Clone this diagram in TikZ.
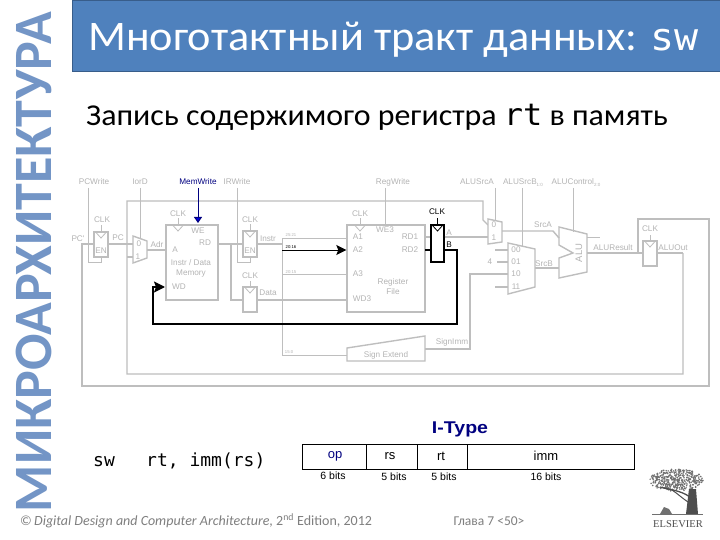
\documentclass[tikz,border=0pt]{standalone}
\usepackage{fontspec}
\setmainfont{Carlito}
\newfontfamily\carl{Carlito}
\newfontfamily\arl{Liberation Sans}
\newfontfamily\mon{DejaVu Sans Mono}
\newfontfamily\tms{Liberation Serif}
\usetikzlibrary{arrows.meta,calc}
\definecolor{wire}{HTML}{BEBEBE}
\definecolor{wtext}{HTML}{B4B4B4}
\definecolor{hdr}{HTML}{4F81BD}
\definecolor{hdrb}{HTML}{385D8A}
\definecolor{side}{HTML}{7395C6}
\definecolor{navy}{HTML}{000080}
\definecolor{foot}{HTML}{7F7F7F}
\definecolor{tree}{HTML}{707070}
\newcommand{\subs}[1]{{\fontsize{4.5}{5}\selectfont\raisebox{-1.2pt}{#1}}}
\tikzset{
 x=1pt,y=-1pt,
 wr/.style={draw=wire,line width=1.4pt,line join=miter},
 thinw/.style={draw=wire,line width=0.8pt},
 hot/.style={draw=black,line width=1.4pt},
 lab/.style={inner sep=0pt,text=wtext,font=\arl\fontsize{8.2}{9}\selectfont,align=center},
 toplab/.style={lab,anchor=base},
 tiny/.style={inner sep=0pt,text=wtext,font=\arl\fontsize{4.2}{5}\selectfont},
 hlab/.style={inner sep=0pt,text=black,font=\arl\fontsize{8.2}{9}\selectfont},
 regbox/.style={rectangle,draw=wire,line width=1.4pt,fill=white,minimum width=14pt,inner sep=0pt},
 bigbox/.style={rectangle,draw=wire,line width=1.4pt,fill=white,inner sep=0pt},
 hotbox/.style={rectangle,draw=black,line width=1.4pt,fill=white,minimum width=13pt,inner sep=0pt},
 cell/.style={rectangle,draw=black,line width=0.8pt,inner sep=0pt,minimum height=25pt},
 ctext/.style={inner sep=0pt,font=\arl\fontsize{13}{14}\selectfont},
 bits/.style={inner sep=0pt,font=\arl\fontsize{10.5}{12}\selectfont,text=black},
}
\begin{document}
\begin{tikzpicture}
\useasboundingbox (0,0) rectangle (720,540);
\fill[white] (0,0) rectangle (720,540);

% header and side text
\node[rectangle,draw=hdrb,line width=1pt,fill=hdr,minimum width=650pt,minimum height=71pt,inner sep=0pt] (head) at (397,36.5) {};
\node[inner sep=0pt,text=white,anchor=base west,yscale=.95] (title) at (88,51) {\carl\fontsize{44.3}{46}\selectfont Многотактный тракт данных: {\mon\fontsize{40}{42}\selectfont sw}};
\node[inner sep=0pt,text=black,anchor=base west,yscale=.95] (sub) at (86,126) {\carl\fontsize{31.9}{34}\selectfont Запись содержимого регистра {\mon\fontsize{32}{34}\selectfont rt} в память};
\node[inner sep=0pt,text=side,rotate=90] (sidet) at (34,262) {\carl\bfseries\fontsize{54}{56}\selectfont МИКРОАРХИТЕКТУРА};

% outer wires
\coordinate (pcin) at (94,244);
\coordinate (pcl) at (82,244);
\coordinate (obl) at (82,386);
\coordinate (obr) at (709,386);
\coordinate (otr) at (709,219);
\coordinate (otl) at (638,219);
\coordinate (aluj) at (638,253);
\coordinate (ibl) at (127,374);
\coordinate (ibr) at (683,374);
\coordinate (outj) at (683,253);
\coordinate (itl) at (127,201);
\coordinate (itr) at (483,201);
\coordinate (itd) at (483,220);
\coordinate (pcj) at (127,244);
\coordinate (pcj2) at (127,257);
\draw[wr] (pcin) -- (pcl) -- (obl) -- (obr) -- (otr) -- (otl) -- (aluj);
\draw[wr] (outj) -- (ibr) -- (ibl) -- (itl) -- (itr) -- (itd) -- (488,225);

% enables
\node[regbox,minimum height=25pt] (pcreg) at (101,244.5) {};
\node[regbox,minimum height=26pt] (ireg) at (250,244) {};
\node[regbox,minimum height=25pt] (dreg) at (250,299.5) {};
\node[regbox,minimum height=25pt] (oreg) at (650,253.5) {};
\coordinate (pcwt) at (88,188);
\coordinate (pcwb) at (88,262);
\coordinate (pcwe) at (101,262);
\draw[thinw] (pcwt) -- (pcwb) -- (pcwe) -- (pcreg.south);
\coordinate (irwt) at (237,188);
\coordinate (irwb) at (237,262);
\coordinate (irwe) at (250,262);
\draw[thinw] (irwt) -- (irwb) -- (irwe) -- (ireg.south);

% first mux
\coordinate (m1in0) at (133,244);
\coordinate (m1in1) at (133,257);
\coordinate (m1out) at (147,250);
\coordinate (m1top) at (140,238);
\draw[wr,fill=white] (133,236) -- (147,241) -- (147,258) -- (133,263) -- cycle;
\draw[wr] (pcreg.east |- pcj) -- (m1in0);
\draw[wr] (pcj2) -- (m1in1);
\coordinate (iodt) at (140,188);
\draw[thinw] (iodt) -- (m1top);

% memory
\node[bigbox,minimum width=52pt,minimum height=75pt] (mem) at (192,262.5) {};
\coordinate (memA) at (166,250);
\coordinate (memWD) at (165,287);
\coordinate (memRD) at (218,244);
\coordinate (memWE) at (198,223);
\coordinate (mwt) at (198,188);
\draw[wr] (m1out) -- (memA);
\coordinate (rdj) at (231,244);
\coordinate (rdjb) at (231,300);
\draw[wr] (memRD) -- (ireg.west |- memRD);
\draw[wr] (rdj) -- (rdjb) -- (dreg.west |- rdjb);
\draw[draw=navy,line width=1pt,-{Triangle[length=6pt,width=8pt,fill=blue!85!black]}] (mwt) -- (memWE);

% decoder wires
\coordinate (busT) at (282,238);
\coordinate (busB) at (282,355);
\coordinate (busI) at (282,244);
\coordinate (bus2) at (282,250);
\coordinate (bus3) at (282,274);
\coordinate (dout) at (347,300);
\draw[wr] (ireg.east |- busI) -- (busI);
\draw[wr] (dreg.east |- dout) -- (dout);
\draw[thinw] (busT) -- (busB);

% register file
\node[bigbox,minimum width=78pt,minimum height=87pt] (rf) at (386,268.5) {};
\draw[thinw] (busT) -- (rf.west |- busT);
\draw[thinw] (bus3) -- (rf.west |- bus3);
\path (347,348) coordinate (seA) (425,336) coordinate (seB) (425,361) coordinate (seC) (347,361) coordinate (seD);
\draw[wr] (seA) -- (seB) -- (seC) -- (seD) -- cycle;
\draw[thinw] (busB) -- (347,355);
\coordinate (rwt) at (385,188);
\draw[thinw] (rwt) -- (385,226);

% A/B register
\node[hotbox,minimum height=37pt] (abreg) at (437.5,243.5) {};
\coordinate (rd1) at (425,237);
\coordinate (rd2) at (425,250);
\draw[wr] (rd1) -- (abreg.west |- rd1);
\draw[hot] (rd2) -- (abreg.west |- rd2);
\draw[wr] (abreg.east |- rd1) -- (488,237);

% black data path
\coordinate (b1) at (457,250);
\coordinate (b2) at (457,324);
\coordinate (b3) at (153,324);
\coordinate (b4) at (153,287);
\draw[hot,line width=1.6pt,-{Stealth[length=11pt,width=11pt,inset=2pt]}] (abreg.east |- b1) -- (b1) -- (b2) -- (b3) -- (b4) -- (memWD);
\draw[draw=black,line width=0.9pt,-{Stealth[length=10pt,width=10pt,inset=2pt]}] (bus2) -- (rf.west |- bus2);

% ALUSrcA mux
\draw[wr,fill=white] (488,219) -- (502,222) -- (502,242) -- (488,244) -- cycle;
\coordinate (m2out) at (502,231);
\coordinate (srcA1) at (553,231);
\coordinate (aluA) at (559,238);
\coordinate (astop) at (495,188);
\draw[thinw] (astop) -- (495,220);

% ALUSrcB mux
\draw[wr,fill=white] (508,243) -- (535,249) -- (535,287) -- (508,294) -- cycle;
\coordinate (bstop) at (522,188);
\draw[thinw] (bstop) -- (522,247);
\coordinate (i00) at (508,250);
\coordinate (i01) at (508,262);
\coordinate (i10) at (508,274);
\coordinate (i11) at (508,287);
\draw[wr] (495,250) -- (i00);
\draw[wr] (497,262) -- (i01);
\draw[wr] (495,287) -- (i11);
\coordinate (sx1) at (470,274);
\coordinate (sx2) at (470,349);
\draw[wr] (i10) -- (sx1) -- (sx2) -- (425,349);

% ALU
\draw[wr,fill=white] (559,227) -- (587,234) -- (587,272) -- (559,278) -- (559,258) -- (573,253) -- (559,245) -- cycle;
\draw[wr] (m2out) -- (srcA1) -- (aluA);
\coordinate (m3out) at (535,268);
\draw[wr] (m3out) -- (559,268);
\coordinate (actop) at (573,188);
\draw[thinw] (actop) -- (573,232);
\draw[thinw] (587,237) -- (600,237);
\coordinate (aluO) at (587,253);
\draw[wr] (aluO) -- (oreg.west |- aluO);
\draw[wr] (oreg.east |- outj) -- (outj);

% clock triangles and stems
\foreach \nm/\xc/\ytop/\col in {t1/101/232/wire,t2/178/225/wire,t3/250/231/wire,t4/250/287/wire,t5/360/225/wire,t6/650/241/wire}{
 \draw[draw=\col,line width=0.8pt] (\xc-5.5,\ytop) -- (\xc,\ytop+6) -- (\xc+5.5,\ytop);
 \draw[draw=\col,line width=0.8pt] (\xc,\ytop) -- (\xc,\ytop-6.5);
}
\draw[draw=black,line width=0.8pt] (432,225) -- (437.5,231) -- (443,225);
\draw[draw=black,line width=0.8pt] (437.5,225) -- (437.5,218);

% labels
\node[toplab] (l1) at (94,185) {PCWrite};
\node[toplab] (l2) at (140,185) {IorD};
\node[inner sep=0pt,anchor=base,text=navy,font=\arl\fontsize{8.2}{9}\selectfont] (l3) at (198,185) {MemWrite};
\node[toplab] (l4) at (237,185) {IRWrite};
\node[toplab] (l5) at (393,185) {RegWrite};
\node[toplab] (l6) at (477,185) {ALUSrcA};
\node[toplab] (l7) at (523,185) {ALUSrcB\subs{1:0}};
\node[toplab] (l8) at (576,185) {ALUControl\subs{2:0}};
\node[lab] (l9) at (78,239) {PC'};
\node[lab] (l10) at (118,238) {PC};
\node[lab] (l11) at (157,245) {Adr};
\node[lab] (l12) at (268,239) {Instr};
\node[lab] (l13) at (268,293) {Data};
\node[lab] (c1) at (102,220) {CLK};
\node[lab] (c2) at (178,214) {CLK};
\node[lab] (c3) at (250,220) {CLK};
\node[lab] (c4) at (250,276) {CLK};
\node[lab] (c5) at (360,214) {CLK};
\node[hlab] (c6) at (437,212) {CLK};
\node[lab] (c7) at (650,229) {CLK};
\node[lab] (e1) at (101,251) {EN};
\node[lab] (e2) at (250,251) {EN};
\node[lab] (m0) at (139,244) {0};
\node[lab] (m1) at (138,257) {1};
\node[lab] (m2) at (198,231) {WE};
\node[lab] (m3) at (205,243) {RD};
\node[lab] (m4) at (175,250) {A};
\node[lab] (m5) at (191,268.5) {Instr / Data\\[1pt]Memory};
\node[lab] (m6) at (179,287) {WD};
\node[tiny] (t1) at (291,235) {25:21};
\node[inner sep=0pt,text=black,font=\arl\fontsize{4.2}{5}\selectfont] (t2) at (291,247) {20:16};
\node[tiny] (t3) at (291,272) {20:15};
\node[tiny] (t4) at (289,352) {15:0};
\node[lab] (r1) at (358,237) {A1};
\node[lab] (r2) at (358,250) {A2};
\node[lab] (r3) at (358,274) {A3};
\node[lab] (r4) at (362,299) {WD3};
\node[lab] (r5) at (385,230) {WE3};
\node[lab] (r6) at (410,237) {RD1};
\node[lab] (r7) at (410,250) {RD2};
\node[lab] (r8) at (393,287) {Register\\[1pt]File};
\node[lab] (a1) at (449,233) {A};
\node[hlab] (a2) at (449,245) {B};
\node[lab] (x0) at (494,225) {0};
\node[lab] (x1) at (494,238) {1};
\node[lab] (y0) at (516,250) {00};
\node[lab] (y1) at (516,262) {01};
\node[lab] (y2) at (516,274) {10};
\node[lab] (y3) at (516,287) {11};
\node[lab] (y4) at (490,262) {4};
\node[lab] (s1) at (543,225) {SrcA};
\node[lab] (s2) at (544,264) {SrcB};
\node[lab,rotate=90,font=\arl\fontsize{9.5}{10}\selectfont] (s3) at (579,253) {ALU};
\node[lab] (s4) at (613,248) {ALUResult};
\node[lab] (s5) at (673,248) {ALUOut};
\node[lab] (s6) at (452,342) {SignImm};
\node[lab] (s7) at (386,355) {Sign Extend};

% instruction format
\node[inner sep=0pt,text=navy,font=\arl\bfseries\fontsize{17}{18}\selectfont,xscale=1.15] (itype) at (460,429) {I-Type};
\node[cell,minimum width=64pt] (op) at (334,456.5) {};
\node[cell,minimum width=51pt] (rs) at (391.5,456.5) {};
\node[cell,minimum width=50pt] (rt) at (442,456.5) {};
\node[cell,minimum width=167pt] (imm) at (550.5,456.5) {};
\node[ctext,text=navy] (opt) at (335,456) {op};
\node[ctext] (rst) at (390,456) {rs};
\node[ctext] (rtt) at (441,456) {rt};
\node[ctext] (immt) at (546,456) {imm};
\node[bits] (b6) at (333,476) {6 bits};
\node[bits] (b5a) at (394,477) {5 bits};
\node[bits] (b5b) at (444,477) {5 bits};
\node[bits] (b16) at (546,477) {16 bits};
\node[inner sep=0pt,anchor=base west] (sw) at (93,466) {\mon\fontsize{18}{20}\selectfont sw};
\node[inner sep=0pt,anchor=base west] (args) at (146,466) {\mon\fontsize{18}{20}\selectfont rt, imm(rs)};

% footer
\node[inner sep=0pt,anchor=west,text=foot] (foot1) at (20,521) {\carl\fontsize{14}{16}\selectfont ©\,\textit{Digital Design and Computer Architecture,} 2\textsuperscript{nd} Edition, 2012};
\node[inner sep=0pt,text=foot] (foot2) at (489,521) {\carl\fontsize{13.5}{15}\selectfont Глава 7 <50>};

% Elsevier tree
\pgfmathsetseed{11}
\foreach \i in {1,...,420}{
 \pgfmathsetmacro\aa{rnd*360}
 \pgfmathsetmacro\rr{sqrt(rnd)}
 \fill[tree] ({676+27*\rr*cos(\aa)},{480+11*\rr*sin(\aa)}) circle (0.85pt);
}
\fill[tree!70!black] (689,489) -- (696,489) -- (698,514) -- (686,514) -- cycle;
\draw[tree!70!black,line width=1.3pt] (690,497) .. controls (680,490) and (670,490) .. (660,487);
\draw[tree!70!black,line width=1pt] (688,502) .. controls (682,498) and (678,494) .. (672,490);
\fill[tree] (660,514) -- (664,507) -- (669,509) -- (672,514) -- cycle;
\draw[tree,line width=0.8pt] (652,514) -- (703,514);
\node[inner sep=0pt,text=tree!70!black] (els) at (678,524.5) {\tms\fontsize{10.5}{11}\selectfont ELSEVIER};
\end{tikzpicture}
\end{document}
